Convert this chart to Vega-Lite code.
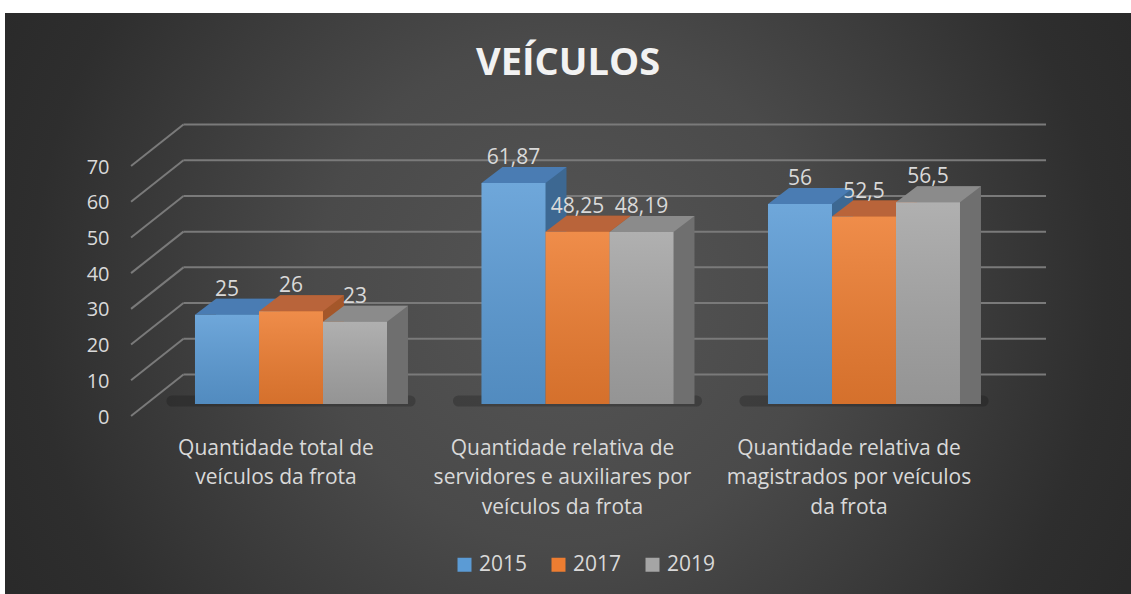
{
  "$schema": "https://vega.github.io/schema/vega-lite/v6.json",
  "width": 1126,
  "height": 581,
  "autosize": {"type": "none"},
  "padding": {"left": 5, "top": 13, "right": 0, "bottom": 0},
  "background": "#ffffff",
  "title": {
    "text": "VEÍCULOS",
    "font": "Open Sans",
    "fontSize": 38,
    "fontWeight": "bold",
    "color": "#f2f2f2",
    "anchor": "middle",
    "frame": "group",
    "offset": -70
  },
  "config": {
    "font": "Open Sans",
    "view": {
      "stroke": null,
      "fill": {
        "gradient": "radial",
        "x1": 0.5, "y1": 0.49, "r1": 0,
        "x2": 0.5, "y2": 0.49, "r2": 0.56,
        "stops": [
          {"offset": 0, "color": "#555555"},
          {"offset": 0.4, "color": "#4a4a4a"},
          {"offset": 0.85, "color": "#2e2e2e"},
          {"offset": 1, "color": "#2a2a2a"}
        ]
      }
    }
  },
  "datasets": {
    "bars": [
      {"cat": "Quantidade total de|veículos da frota", "year": "2015", "value": 25, "label": "25"},
      {"cat": "Quantidade total de|veículos da frota", "year": "2017", "value": 26, "label": "26"},
      {"cat": "Quantidade total de|veículos da frota", "year": "2019", "value": 23, "label": "23"},
      {"cat": "Quantidade relativa de|servidores e auxiliares por|veículos da frota", "year": "2015", "value": 61.87, "label": "61,87"},
      {"cat": "Quantidade relativa de|servidores e auxiliares por|veículos da frota", "year": "2017", "value": 48.25, "label": "48,25"},
      {"cat": "Quantidade relativa de|servidores e auxiliares por|veículos da frota", "year": "2019", "value": 48.19, "label": "48,19"},
      {"cat": "Quantidade relativa de|magistrados por veículos|da frota", "year": "2015", "value": 56, "label": "56"},
      {"cat": "Quantidade relativa de|magistrados por veículos|da frota", "year": "2017", "value": 52.5, "label": "52,5"},
      {"cat": "Quantidade relativa de|magistrados por veículos|da frota", "year": "2019", "value": 56.5, "label": "56,5"}
    ],
    "cats": [
      {"cat": "Quantidade total de|veículos da frota"},
      {"cat": "Quantidade relativa de|servidores e auxiliares por|veículos da frota"},
      {"cat": "Quantidade relativa de|magistrados por veículos|da frota"}
    ],
    "grid": [
      {"v": 0}, {"v": 10}, {"v": 20}, {"v": 30}, {"v": 40}, {"v": 50}, {"v": 60}, {"v": 70}
    ]
  },
  "resolve": {"scale": {"color": "independent", "xOffset": "independent"}},
  "layer": [
    {
      "data": {"name": "grid"},
      "mark": {"type": "rule", "color": "#7a7a7a", "strokeWidth": 2, "yOffset": 12, "y2Offset": -29.5},
      "encoding": {
        "x": {"datum": "Quantidade total de|veículos da frota", "type": "nominal", "bandPosition": -0.333,
              "scale": {"domain": ["Quantidade total de|veículos da frota", "Quantidade relativa de|servidores e auxiliares por|veículos da frota", "Quantidade relativa de|magistrados por veículos|da frota"],
                        "paddingInner": 0.3298, "paddingOuter": 0.63, "align": 0.5263}},
        "x2": {"datum": "Quantidade total de|veículos da frota", "bandPosition": -0.06},
        "y": {"field": "v", "type": "quantitative", "title": null,
              "scale": {"domain": [0, 70], "range": [391, 141], "nice": false, "zero": true}},
        "y2": {"field": "v"}
      }
    },
    {
      "data": {"name": "grid"},
      "mark": {"type": "rule", "color": "#7a7a7a", "strokeWidth": 2, "yOffset": -29.5},
      "encoding": {
        "x": {"datum": "Quantidade total de|veículos da frota", "type": "nominal", "bandPosition": -0.06},
        "x2": {"datum": "Quantidade relativa de|magistrados por veículos|da frota", "bandPosition": 1.448},
        "y": {"field": "v", "type": "quantitative", "title": null}
      }
    },
    {
      "data": {"name": "cats"},
      "mark": {"type": "rule", "color": "#0a0a0a", "strokeWidth": 11, "opacity": 0.22, "strokeCap": "round", "yOffset": -3},
      "encoding": {
        "x": {"field": "cat", "type": "nominal", "bandPosition": -0.12, "title": null},
        "x2": {"field": "cat", "bandPosition": 1.12},
        "y": {"datum": 0, "type": "quantitative"}
      }
    },
    {
      "data": {"name": "bars"},
      "mark": {"type": "bar", "yOffset": -16, "y2Offset": -16},
      "encoding": {
        "x": {"field": "cat", "type": "nominal", "title": null},
        "xOffset": {"field": "year", "type": "nominal", "scale": {"domain": ["2015", "2017", "2019"], "range": [21, 213]}},
        "y": {"field": "value", "type": "quantitative", "stack": null, "title": null},
        "color": {"field": "year", "type": "nominal", "legend": null,
                  "scale": {"domain": ["2015", "2017", "2019"], "range": ["#3d6892", "#a4572a", "#6f6f6f"]}}
      }
    },
    {
      "data": {"name": "bars"},
      "mark": {"type": "point", "shape": "M-32,0L32,0L53,-16L-11,-16Z", "size": 4, "filled": true, "opacity": 1, "strokeWidth": 0},
      "encoding": {
        "x": {"field": "cat", "type": "nominal", "title": null},
        "xOffset": {"field": "year", "type": "nominal", "scale": {"domain": ["2015", "2017", "2019"]}},
        "y": {"field": "value", "type": "quantitative", "title": null},
        "color": {"field": "year", "type": "nominal", "legend": null,
                  "scale": {"domain": ["2015", "2017", "2019"], "range": ["#4a7cb3", "#b9643a", "#8b8b8b"]}}
      }
    },
    {
      "data": {"name": "bars"},
      "mark": {"type": "bar"},
      "encoding": {
        "x": {"field": "cat", "type": "nominal", "title": null,
              "axis": {"orient": "bottom", "offset": -190, "labelExpr": "split(datum.label, '|')",
                       "labelPadding": 44, "labelOffset": -15, "labelAlign": "center", "ticks": false, "domain": false, "grid": false,
                       "labelFont": "Open Sans", "labelFontSize": 21, "labelLineHeight": 29.5,
                       "labelColor": "#d9d9d9", "labelLimit": 0, "labelAngle": 0, "title": null}},
        "xOffset": {"field": "year", "type": "nominal", "scale": {"domain": ["2015", "2017", "2019"]}},
        "y": {"field": "value", "type": "quantitative", "stack": null, "title": null,
              "axis": {"values": [0, 10, 20, 30, 40, 50, 60, 70], "offset": -104, "labelPadding": 0,
                       "ticks": false, "tickSize": 0, "domain": false, "grid": false, "labelOffset": 13,
                       "labelFont": "Open Sans", "labelFontSize": 20, "labelColor": "#d9d9d9",
                       "labelOverlap": false, "title": null}},
        "color": {"field": "year", "type": "nominal", "title": null,
                  "scale": {"domain": ["2015", "2017", "2019"], "range": ["#5b9bd5", "#ed7d31", "#a5a5a5"]},
                  "legend": {"orient": "none", "legendX": 449, "legendY": 541, "direction": "horizontal",
                             "title": null, "symbolType": "square", "symbolSize": 196, "symbolStrokeWidth": 0,
                             "symbolOpacity": 1, "labelFont": "Open Sans", "labelFontSize": 21,
                             "labelColor": "#d9d9d9", "labelOffset": 4, "columnPadding": 20, "padding": 0}}
      }
    },
    {
      "data": {"name": "bars"},
      "mark": {"type": "bar",
               "fill": {"gradient": "linear", "x1": 0, "y1": 0, "x2": 0, "y2": 1,
                        "stops": [{"offset": 0, "color": "rgba(255,255,255,0.12)"},
                                  {"offset": 1, "color": "rgba(0,0,0,0.10)"}]}},
      "encoding": {
        "x": {"field": "cat", "type": "nominal", "title": null},
        "xOffset": {"field": "year", "type": "nominal", "scale": {"domain": ["2015", "2017", "2019"]}},
        "y": {"field": "value", "type": "quantitative", "stack": null, "title": null}
      }
    },
    {
      "data": {"name": "bars"},
      "mark": {"type": "text", "baseline": "middle", "align": "center", "dy": -25,
               "font": "Open Sans", "fontSize": 21, "color": "#d9d9d9"},
      "encoding": {
        "x": {"field": "cat", "type": "nominal", "title": null},
        "xOffset": {"field": "year", "type": "nominal", "scale": {"domain": ["2015", "2017", "2019"]}},
        "y": {"field": "value", "type": "quantitative", "title": null},
        "text": {"field": "label", "type": "nominal"}
      }
    }
  ]
}
